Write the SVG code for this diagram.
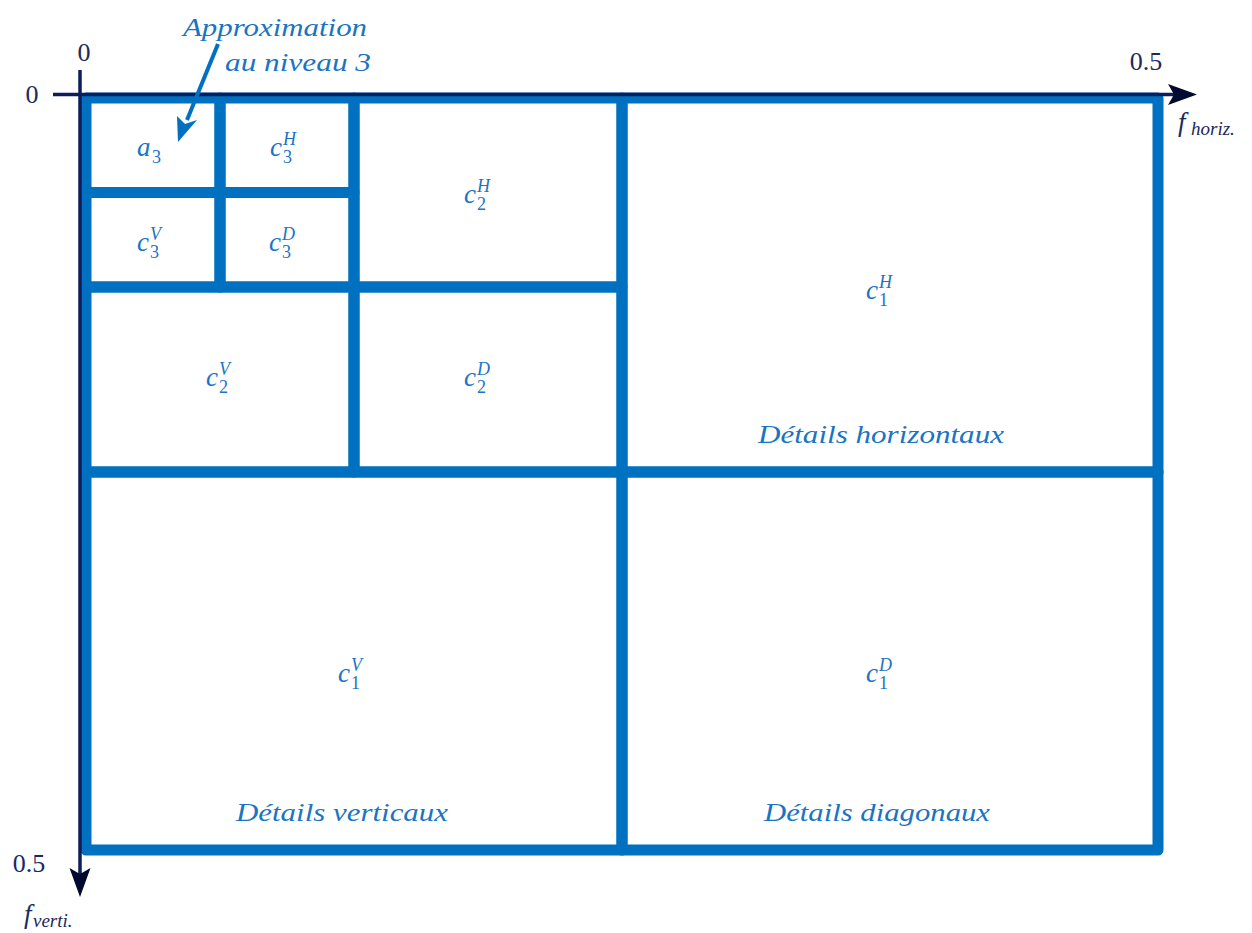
<svg xmlns="http://www.w3.org/2000/svg" width="1252" height="933" viewBox="0 0 1252 933">
<style>
.cell{fill:none;stroke:#0070c0;stroke-width:11;stroke-linejoin:round}
.m{font-family:"Liberation Serif","DejaVu Serif",serif;font-style:italic;font-size:27px;fill:#1a74c4}
.sup{font-style:italic;font-size:18px}
.sub{font-style:normal;font-size:18px}
.lab{font-family:"Liberation Serif","DejaVu Serif",serif;font-style:italic;font-size:26px;fill:#1a74c4}
.ax{font-family:"Liberation Serif","DejaVu Serif",serif;font-size:26px;fill:#1b2a5e}
.axi{font-family:"Liberation Serif","DejaVu Serif",serif;font-style:italic;font-size:27px;fill:#1b2a5e}
.axs{font-size:19px}
.axis{stroke:#0b1e5b;stroke-width:3.5;fill:none}
.head{fill:#000a30}
</style>
<rect width="1252" height="933" fill="#ffffff"/>
<g id="a3"><rect class="cell" x="86" y="98" width="134" height="94.5"/><text class="m" x="137" y="156">a<tspan class="sub" x="152" y="163">3</tspan></text></g>
<g id="c3H"><rect class="cell" x="220" y="98" width="134" height="94.5"/><text class="m" x="270" y="156">c<tspan class="sup" x="283" y="145">H</tspan><tspan class="sub" x="283" y="163">3</tspan></text></g>
<g id="c3V"><rect class="cell" x="86" y="192.5" width="134" height="94.5"/><text class="m" x="137" y="251">c<tspan class="sup" x="150" y="240">V</tspan><tspan class="sub" x="150" y="258">3</tspan></text></g>
<g id="c3D"><rect class="cell" x="220" y="192.5" width="134" height="94.5"/><text class="m" x="269" y="251">c<tspan class="sup" x="282" y="240">D</tspan><tspan class="sub" x="282" y="258">3</tspan></text></g>
<g id="c2H"><rect class="cell" x="354" y="98" width="268" height="189"/><text class="m" x="464" y="203">c<tspan class="sup" x="477" y="192">H</tspan><tspan class="sub" x="477" y="210">2</tspan></text></g>
<g id="c2V"><rect class="cell" x="86" y="287" width="268" height="185"/><text class="m" x="206" y="386">c<tspan class="sup" x="219" y="375">V</tspan><tspan class="sub" x="219" y="393">2</tspan></text></g>
<g id="c2D"><rect class="cell" x="354" y="287" width="268" height="185"/><text class="m" x="464" y="386">c<tspan class="sup" x="477" y="375">D</tspan><tspan class="sub" x="477" y="393">2</tspan></text></g>
<g id="c1H"><rect class="cell" x="622" y="98" width="536" height="374"/><text class="m" x="866" y="299">c<tspan class="sup" x="879" y="288">H</tspan><tspan class="sub" x="879" y="306">1</tspan></text><text class="lab" x="881" y="443" text-anchor="middle" textLength="246" lengthAdjust="spacingAndGlyphs">Détails horizontaux</text></g>
<g id="c1V"><rect class="cell" x="86" y="472" width="536" height="378"/><text class="m" x="338" y="682">c<tspan class="sup" x="351" y="671">V</tspan><tspan class="sub" x="351" y="689">1</tspan></text><text class="lab" x="342" y="821" text-anchor="middle" textLength="212" lengthAdjust="spacingAndGlyphs">Détails verticaux</text></g>
<g id="c1D"><rect class="cell" x="622" y="472" width="536" height="378"/><text class="m" x="866" y="682">c<tspan class="sup" x="879" y="671">D</tspan><tspan class="sub" x="879" y="689">1</tspan></text><text class="lab" x="877" y="821" text-anchor="middle" textLength="226" lengthAdjust="spacingAndGlyphs">Détails diagonaux</text></g>
<g id="axes">
<line class="axis" x1="53" y1="94.5" x2="1180" y2="94.5"/>
<polygon class="head" points="1197,94.5 1168,84 1174,94.5 1168,105"/>
<line class="axis" x1="80" y1="70" x2="80" y2="880"/>
<polygon class="head" points="80,897 69.5,868 80,874 90.5,868"/>
<text class="ax" x="84" y="61" text-anchor="middle">0</text>
<text class="ax" x="32" y="103" text-anchor="middle">0</text>
<text class="ax" x="1146" y="70" text-anchor="middle">0.5</text>
<text class="ax" x="29" y="872" text-anchor="middle">0.5</text>
<text class="axi" x="1178" y="131">f<tspan class="axs" x="1191" y="135">horiz.</tspan></text>
<text class="axi" x="24" y="923">f<tspan class="axs" x="33" y="927">verti.</tspan></text>
</g>
<g id="annotation">
<text class="lab" x="275" y="36" text-anchor="middle" textLength="184" lengthAdjust="spacingAndGlyphs">Approximation</text>
<text class="lab" x="298" y="71" text-anchor="middle" textLength="146" lengthAdjust="spacingAndGlyphs">au niveau 3</text>
</g>
<g id="connectors">
<line x1="218" y1="44" x2="187" y2="120" stroke="#0070c0" stroke-width="4"/>
<polygon points="178,142 177,116 185,124 197,120" fill="#0070c0"/>
</g>
</svg>
